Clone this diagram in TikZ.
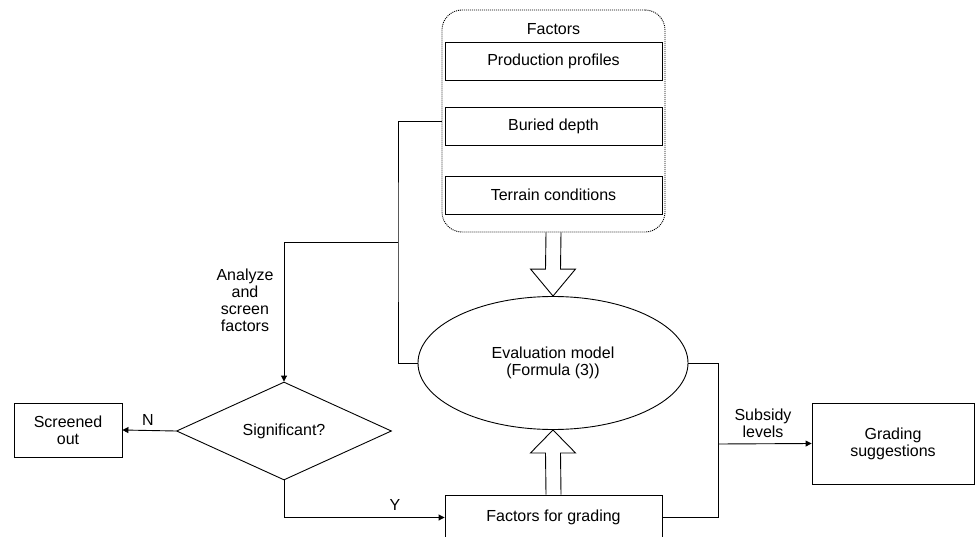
\documentclass[tikz,border=0pt]{standalone}
\usepackage{fontspec}
\setmainfont{Liberation Sans}
\usetikzlibrary{shapes.geometric,arrows.meta,calc}

\begin{document}
\begin{tikzpicture}[x=1pt, y=-1pt, line width=0.9pt,
    every node/.style={font=\fontsize{16}{17}\selectfont, align=center, inner sep=0pt},
    block/.style={draw, rectangle, minimum width=217pt, minimum height=38pt},
    arr/.style={-{Triangle[length=6pt,width=6pt]}}]
    \useasboundingbox (0,0) rectangle (976,537);

    % factor group
    \node[draw, rounded corners=20pt, dash pattern=on 1pt off 1pt,
          minimum width=223pt, minimum height=222pt] (factors) at (553.5,121) {};
    \node (ftitle) at (553.5,29) {Factors};
    \node[block] (prod) at (553.5,61.5) {Production profiles};
    \node[block] (depth) at (553.5,126) {Buried depth};
    \node[block] (terrain) at (553.5,195) {Terrain conditions};

    \node[draw, ellipse, minimum width=270pt, minimum height=133pt] (eval) at (553,363)
        {Evaluation model\\(Formula (3))};
    \node[draw, diamond, minimum width=215pt, minimum height=98pt] (sig) at (284,431) {Significant?};
    \node[draw, minimum width=108pt, minimum height=54pt] (out) at (68,430) {Screened\\out};
    \node[block, minimum height=45pt] (gradf) at (553.5,517.5) {Factors for grading};
    \node[draw, minimum width=162pt, minimum height=81pt] (sugg) at (893,443.5) {Grading\\suggestions};

    \node (analyze) at (245,300) {Analyze\\and\\screen\\factors};
    \node (nlab) at (148,420) {N};
    \node (ylab) at (395,505) {Y};
    \node (subsidy) at (763,423) {Subsidy\\levels};

    \coordinate (ltrunk) at (398,242);
    \coordinate (rtrunk) at (718,444);

    \draw (factors.west) -| (ltrunk) |- (eval.west);
    \draw[arr] (ltrunk) -| (sig.north);
    \draw[arr] (sig.west) -- (out.east);
    \draw[arr] (sig.south) |- (gradf.west);
    \draw (eval.east) -| (rtrunk) |- (gradf.east);
    \draw[arr] (rtrunk) -- (sugg.west);

    % hollow arrows
    \draw ($(factors.south)+(-7.5,0)$) -- ($(eval.north)+(-7.5,-27)$) -- ($(eval.north)+(-22.5,-27)$)
        -- (eval.north) -- ($(eval.north)+(22.5,-27)$) -- ($(eval.north)+(7.5,-27)$) -- ($(factors.south)+(7.5,0)$);
    \draw ($(gradf.north)+(-7.5,0)$) -- ($(eval.south)+(-7.5,23)$) -- ($(eval.south)+(-22.5,23)$)
        -- (eval.south) -- ($(eval.south)+(22.5,23)$) -- ($(eval.south)+(7.5,23)$) -- ($(gradf.north)+(7.5,0)$);
\end{tikzpicture}
\end{document}
